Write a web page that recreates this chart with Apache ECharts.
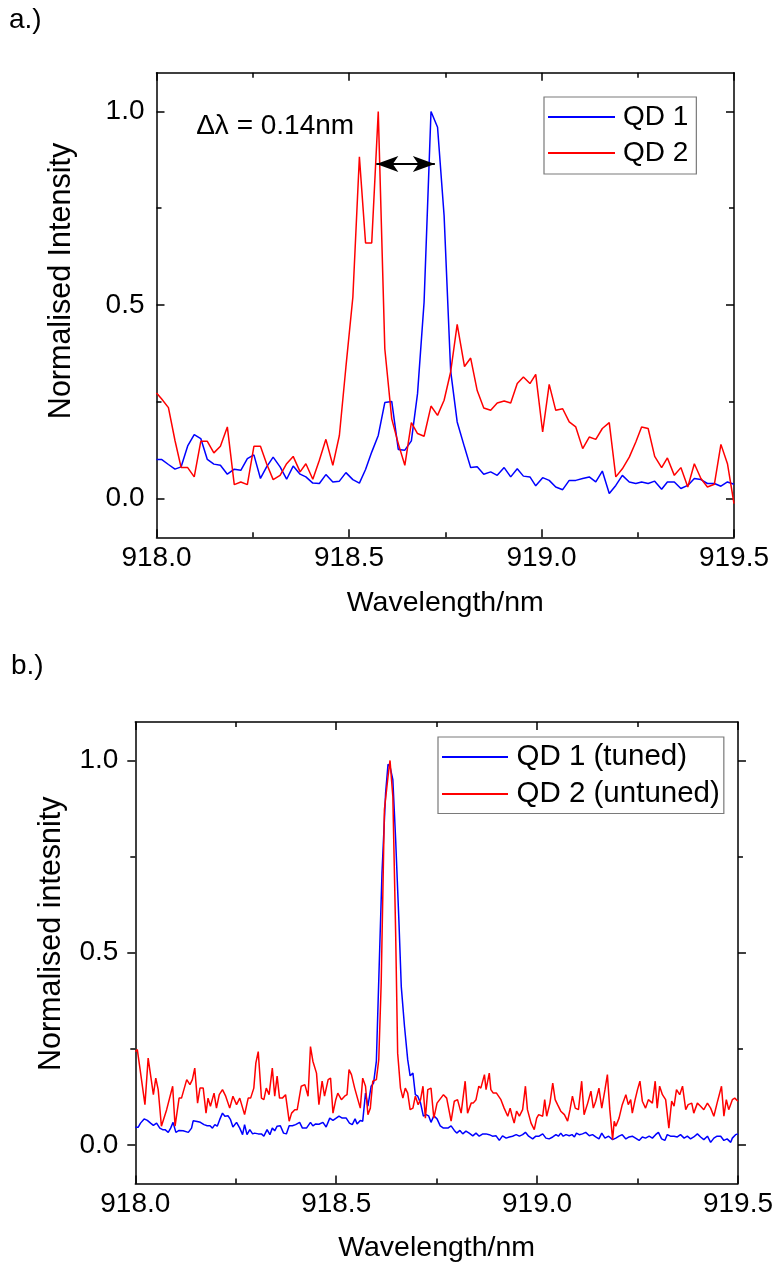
<!DOCTYPE html>
<html>
<head>
<meta charset="utf-8">
<script src="https://cdn.jsdelivr.net/npm/echarts@6/dist/echarts.min.js"></script>
<style>
  html, body { margin: 0; padding: 0; background: #ffffff; }
  #chart { width: 776px; height: 1268px; }
</style>
</head>
<body>
<div id="chart"></div>
<script>
// ---------- Panel a: spectra of the two dots before tuning ----------
const waveA = [918.000, 918.013, 918.031, 918.048, 918.064, 918.081, 918.098, 918.115, 918.132, 918.149,
  918.166, 918.184, 918.202, 918.219, 918.236, 918.253, 918.270, 918.286, 918.303, 918.321,
  918.338, 918.355, 918.373, 918.388, 918.406, 918.423, 918.440, 918.458, 918.475, 918.492,
  918.510, 918.527, 918.543, 918.559, 918.576, 918.593, 918.611, 918.628, 918.645, 918.662,
  918.678, 918.695, 918.713, 918.730, 918.747, 918.764, 918.781, 918.800, 918.816, 918.833,
  918.850, 918.868, 918.885, 918.903, 918.920, 918.937, 918.953, 918.970, 918.985, 919.003,
  919.020, 919.037, 919.055, 919.072, 919.089, 919.107, 919.124, 919.141, 919.158, 919.176,
  919.193, 919.210, 919.228, 919.245, 919.260, 919.277, 919.294, 919.312, 919.327, 919.345,
  919.362, 919.380, 919.397, 919.414, 919.431, 919.449, 919.466, 919.483, 919.500];

const qd1A = [0.101, 0.101, 0.088, 0.076, 0.082, 0.136, 0.165, 0.155, 0.101, 0.089,
  0.086, 0.063, 0.076, 0.073, 0.103, 0.113, 0.052, 0.082, 0.107, 0.082,
  0.050, 0.084, 0.063, 0.056, 0.040, 0.039, 0.062, 0.043, 0.045, 0.067,
  0.049, 0.040, 0.075, 0.120, 0.163, 0.248, 0.251, 0.127, 0.125, 0.149,
  0.271, 0.507, 1.000, 0.959, 0.731, 0.330, 0.198, 0.133, 0.080, 0.082,
  0.063, 0.069, 0.060, 0.080, 0.056, 0.077, 0.058, 0.056, 0.033, 0.054,
  0.047, 0.030, 0.023, 0.047, 0.047, 0.052, 0.056, 0.043, 0.071, 0.013,
  0.034, 0.060, 0.043, 0.039, 0.043, 0.039, 0.045, 0.024, 0.043, 0.043,
  0.026, 0.034, 0.052, 0.049, 0.039, 0.039, 0.032, 0.043, 0.037];

const qd2A = [0.273, 0.258, 0.235, 0.150, 0.080, 0.080, 0.056, 0.148, 0.148, 0.118,
  0.135, 0.185, 0.036, 0.043, 0.036, 0.135, 0.135, 0.090, 0.049, 0.060,
  0.090, 0.109, 0.069, 0.090, 0.050, 0.099, 0.153, 0.086, 0.163, 0.340,
  0.520, 0.883, 0.660, 0.660, 1.000, 0.387, 0.206, 0.142, 0.086, 0.196,
  0.168, 0.161, 0.239, 0.215, 0.254, 0.327, 0.450, 0.341, 0.363, 0.279,
  0.234, 0.228, 0.247, 0.252, 0.247, 0.297, 0.314, 0.297, 0.321, 0.172,
  0.295, 0.228, 0.232, 0.198, 0.185, 0.129, 0.159, 0.153, 0.181, 0.196,
  0.056, 0.077, 0.107, 0.146, 0.185, 0.181, 0.109, 0.080, 0.105, 0.060,
  0.080, 0.030, 0.090, 0.052, 0.030, 0.037, 0.140, 0.090, -0.013];

// double arrow between the two peaks: [tip nm, tip nm, intensity]
const splitArrow = [918.571, 918.723, 0.864];
const splitText = 'Δλ = 0.14nm';
const splitTextAt = [918.103, 0.962];

// ---------- Panel b: after tuning QD 1 onto QD 2 ----------
const waveB1 = [918.000, 918.007, 918.013, 918.022, 918.030, 918.038, 918.045, 918.053, 918.061, 918.068,
  918.074, 918.082, 918.088, 918.094, 918.101, 918.109, 918.119, 918.132, 918.140, 918.144,
  918.154, 918.162, 918.171, 918.179, 918.186, 918.192, 918.198, 918.204, 918.210, 918.217,
  918.223, 918.231, 918.237, 918.243, 918.252, 918.260, 918.267, 918.272, 918.278, 918.285,
  918.292, 918.297, 918.306, 918.314, 918.320, 918.328, 918.335, 918.341, 918.347, 918.353,
  918.361, 918.369, 918.376, 918.383, 918.391, 918.399, 918.409, 918.416, 918.426, 918.436,
  918.442, 918.449, 918.457, 918.467, 918.475, 918.484, 918.492, 918.500, 918.507, 918.515,
  918.525, 918.533, 918.540, 918.547, 918.552, 918.560, 918.566, 918.573, 918.579, 918.587,
  918.593, 918.600, 918.606, 918.614, 918.623, 918.629, 918.634, 918.641, 918.648, 918.656,
  918.662, 918.670, 918.678, 918.684, 918.691, 918.697, 918.703, 918.710, 918.717, 918.724,
  918.730, 918.736, 918.743, 918.751,
  918.759, 918.767, 918.778, 918.786, 918.794, 918.800, 918.808, 918.815, 918.823, 918.831,
  918.840, 918.848, 918.856, 918.865, 918.873, 918.881, 918.889, 918.898, 918.906, 918.914,
  918.923, 918.931, 918.939, 918.948, 918.956, 918.964, 918.971, 918.979, 918.989, 918.997,
  919.005, 919.014, 919.022, 919.030, 919.039, 919.047, 919.053, 919.059, 919.065, 919.072,
  919.080, 919.087, 919.093, 919.098, 919.105, 919.113, 919.121, 919.130, 919.138, 919.146,
  919.154, 919.161, 919.169, 919.178, 919.188, 919.196, 919.204, 919.212, 919.221, 919.229,
  919.237, 919.245, 919.254, 919.262, 919.270, 919.279, 919.287, 919.295, 919.302, 919.310,
  919.318, 919.324, 919.332, 919.341, 919.349, 919.357, 919.366, 919.374, 919.382, 919.390,
  919.399, 919.407, 919.415, 919.424, 919.432, 919.440, 919.448, 919.457, 919.465, 919.473,
  919.482, 919.486, 919.494, 919.500];

const qd1B = [0.046, 0.046, 0.057, 0.068, 0.064, 0.057, 0.051, 0.057, 0.044, 0.040,
  0.040, 0.033, 0.044, 0.059, 0.033, 0.038, 0.037, 0.033, 0.044, 0.063,
  0.061, 0.059, 0.053, 0.050, 0.050, 0.044, 0.053, 0.049, 0.066, 0.083,
  0.075, 0.076, 0.066, 0.047, 0.059, 0.044, 0.027, 0.053, 0.027, 0.040,
  0.029, 0.031, 0.029, 0.029, 0.023, 0.040, 0.027, 0.044, 0.037, 0.049,
  0.050, 0.031, 0.029, 0.050, 0.050, 0.053, 0.059, 0.044, 0.044, 0.059,
  0.050, 0.055, 0.054, 0.059, 0.047, 0.070, 0.064, 0.070, 0.075, 0.070,
  0.070, 0.057, 0.053, 0.068, 0.055, 0.064, 0.062, 0.135, 0.101, 0.153,
  0.161, 0.218, 0.430, 0.707, 0.915, 0.990, 0.984, 0.950, 0.794, 0.586,
  0.412, 0.309, 0.222, 0.180, 0.187, 0.131, 0.127, 0.109, 0.075, 0.079,
  0.076, 0.059, 0.076, 0.068,
  0.050, 0.044, 0.044, 0.050, 0.038, 0.031, 0.038, 0.029, 0.036, 0.031,
  0.024, 0.031, 0.023, 0.029, 0.029, 0.027, 0.023, 0.024, 0.012, 0.024,
  0.018, 0.021, 0.023, 0.027, 0.023, 0.027, 0.033, 0.023, 0.016, 0.023,
  0.023, 0.029, 0.018, 0.016, 0.021, 0.027, 0.023, 0.031, 0.023, 0.027,
  0.024, 0.027, 0.021, 0.031, 0.027, 0.029, 0.033, 0.024, 0.027, 0.021,
  0.016, 0.031, 0.018, 0.023, 0.014, 0.018, 0.023, 0.027, 0.016, 0.021,
  0.023, 0.018, 0.012, 0.021, 0.018, 0.023, 0.018, 0.027, 0.033, 0.016,
  0.012, 0.027, 0.023, 0.023, 0.021, 0.027, 0.018, 0.023, 0.016, 0.021,
  0.029, 0.021, 0.014, 0.023, 0.007, 0.018, 0.023, 0.023, 0.012, 0.016,
  0.007, 0.018, 0.027, 0.029];

const waveB2 = [918.000, 918.005, 918.012, 918.024, 918.032, 918.045, 918.051, 918.057, 918.065, 918.078,
  918.093, 918.099, 918.109, 918.115, 918.128, 918.136, 918.142, 918.148, 918.155, 918.161,
  918.169, 918.176, 918.181, 918.187, 918.196, 918.202, 918.209, 918.217, 918.225, 918.235,
  918.243, 918.252, 918.260, 918.272, 918.281, 918.287, 918.295, 918.300, 918.306, 918.314,
  918.320, 918.326, 918.333, 918.341, 918.347, 918.353, 918.359, 918.366, 918.374, 918.383,
  918.389, 918.397, 918.403, 918.413, 918.422, 918.430, 918.436, 918.442, 918.451, 918.457,
  918.465, 918.471, 918.480, 918.486, 918.492, 918.499, 918.504, 918.513, 918.521, 918.527,
  918.532, 918.538, 918.546, 918.554, 918.560, 918.566, 918.573, 918.579, 918.585, 918.591,
  918.600, 918.606, 918.612, 918.620, 918.629, 918.634, 918.641, 918.648, 918.653, 918.660,
  918.666, 918.672, 918.678, 918.684, 918.691, 918.697, 918.704, 918.710, 918.716, 918.722,
  918.728, 918.736, 918.743, 918.751,
  918.767, 918.775, 918.786, 918.794, 918.802, 918.811, 918.821, 918.827, 918.836, 918.841,
  918.848, 918.855, 918.860, 918.869, 918.873, 918.881, 918.885, 918.891, 918.899, 918.910,
  918.918, 918.927, 918.933, 918.938, 918.943, 918.949, 918.956, 918.964, 918.971, 918.976,
  918.985, 918.993, 918.999, 919.004, 919.008, 919.014, 919.019, 919.024, 919.032, 919.039,
  919.045, 919.051, 919.059, 919.068, 919.076, 919.082, 919.088, 919.095, 919.103, 919.111,
  919.117, 919.126, 919.134, 919.140, 919.146, 919.154, 919.161, 919.169, 919.175, 919.181,
  919.188, 919.192, 919.196, 919.204, 919.212, 919.221, 919.227, 919.233, 919.237, 919.244,
  919.250, 919.256, 919.262, 919.270, 919.277, 919.287, 919.294, 919.299, 919.305, 919.312,
  919.320, 919.328, 919.335, 919.341, 919.347, 919.355, 919.362, 919.370, 919.376, 919.385,
  919.390, 919.399, 919.407, 919.415, 919.424, 919.432, 919.440, 919.448, 919.459, 919.465,
  919.471, 919.477, 919.486, 919.492, 919.500];

const qd2B = [0.243, 0.248, 0.196, 0.105, 0.226, 0.131, 0.174, 0.144, 0.049, 0.092,
  0.153, 0.049, 0.122, 0.122, 0.170, 0.157, 0.170, 0.200, 0.109, 0.148,
  0.148, 0.083, 0.122, 0.101, 0.135, 0.096, 0.131, 0.144, 0.127, 0.096,
  0.127, 0.105, 0.122, 0.079, 0.122, 0.122, 0.148, 0.213, 0.243, 0.122,
  0.118, 0.148, 0.131, 0.200, 0.127, 0.179, 0.122, 0.122, 0.131, 0.062,
  0.083, 0.092, 0.092, 0.153, 0.157, 0.127, 0.256, 0.218, 0.187, 0.105,
  0.166, 0.127, 0.170, 0.174, 0.083, 0.118, 0.135, 0.118, 0.127, 0.131,
  0.196, 0.183, 0.148, 0.118, 0.096, 0.174, 0.153, 0.079, 0.096, 0.166,
  0.170, 0.222, 0.421, 0.872, 0.958, 1.000, 0.906, 0.551, 0.239, 0.148,
  0.122, 0.148, 0.135, 0.092, 0.096, 0.127, 0.105, 0.118, 0.153, 0.070,
  0.144, 0.148, 0.070, 0.109,
  0.131, 0.122, 0.062, 0.114, 0.118, 0.083, 0.166, 0.083, 0.109, 0.109,
  0.118, 0.153, 0.148, 0.183, 0.144, 0.187, 0.144, 0.135, 0.135, 0.118,
  0.096, 0.075, 0.096, 0.075, 0.057, 0.088, 0.075, 0.092, 0.153, 0.092,
  0.057, 0.040, 0.070, 0.079, 0.079, 0.075, 0.118, 0.075, 0.109, 0.161,
  0.118, 0.105, 0.088, 0.079, 0.062, 0.092, 0.127, 0.096, 0.092, 0.166,
  0.079, 0.109, 0.140, 0.096, 0.114, 0.148, 0.096, 0.144, 0.183, 0.092,
  0.014, 0.062, 0.049, 0.070, 0.105, 0.131, 0.105, 0.118, 0.083, 0.118,
  0.144, 0.166, 0.114, 0.096, 0.118, 0.109, 0.166, 0.096, 0.153, 0.131,
  0.118, 0.044, 0.114, 0.101, 0.144, 0.131, 0.153, 0.092, 0.105, 0.109,
  0.083, 0.109, 0.101, 0.092, 0.109, 0.096, 0.075, 0.109, 0.153, 0.075,
  0.118, 0.092, 0.118, 0.122, 0.114];

// ---------- axis ticks / labels ----------
const xTicks = { min: 918.0, max: 919.5, step: 0.5 };
const yMajor = [0, 0.5, 1.0];
const yMinor = [0.25, 0.75];
const yRange = [-0.1, 1.1];

// ---------- styling ----------
const FONT = '"Liberation Sans", Arial, Helvetica, sans-serif';
const BLUE = '#0000ff';
const RED = '#ff0000';
const AXIS_LINE = { color: '#000', width: 1.5 };

const zip = (xs, ys) => xs.map((x, i) => [x, ys[i]]);

function xAxisFor(grid, position, withLabels, nameGap) {
  return {
    type: 'value', gridIndex: grid, position: position,
    min: xTicks.min, max: xTicks.max, interval: xTicks.step,
    axisLine: { show: true, onZero: false, lineStyle: AXIS_LINE },
    axisTick: { show: true, inside: true, length: 8, lineStyle: AXIS_LINE },
    minorTick: { show: true, splitNumber: 2, length: 5, lineStyle: AXIS_LINE },
    splitLine: { show: false }, minorSplitLine: { show: false },
    axisLabel: {
      show: withLabels, margin: 7, fontSize: 28, color: '#000', fontFamily: FONT,
      formatter: v => v.toFixed(1)
    },
    name: withLabels ? 'Wavelength/nm' : '',
    nameLocation: 'middle', nameGap: nameGap,
    nameTextStyle: { fontSize: 28.5, color: '#000', fontFamily: FONT }
  };
}

function yAxisFor(grid, position, major, inside, opts) {
  opts = opts || {};
  return {
    type: 'value', gridIndex: grid, position: position,
    min: yRange[0], max: yRange[1],
    axisLine: { show: major, onZero: false, lineStyle: AXIS_LINE },
    axisTick: {
      show: true, inside: inside, length: major ? 8 : 5,
      customValues: major ? yMajor : yMinor, lineStyle: AXIS_LINE
    },
    splitLine: { show: false },
    axisLabel: {
      show: !!opts.labels, customValues: yMajor, margin: opts.margin || 12,
      fontSize: 28, color: '#000', fontFamily: FONT,
      formatter: v => v.toFixed(1)
    },
    name: opts.name || '',
    nameLocation: 'middle', nameGap: opts.nameGap || 0, nameRotate: 90,
    // left padding lifts the rotated title a little above the axis centre
    nameTextStyle: {
      fontSize: 30.5, color: '#000', fontFamily: FONT,
      padding: [0, 0, 0, opts.lift || 0]
    }
  };
}

function lineSeries(name, x, y, yAxis, color, extra) {
  return Object.assign({
    type: 'line', name: name, xAxisIndex: yAxis < 4 ? 0 : 2, yAxisIndex: yAxis,
    data: zip(x, y), showSymbol: false, symbol: 'none',
    lineStyle: { color: color, width: 1.5 }, itemStyle: { color: color },
    emphasis: { disabled: true }, animation: false
  }, extra || {});
}

const option = {
  backgroundColor: '#ffffff',
  animation: false,
  title: [
    { text: 'a.)', left: 9, top: 6, padding: 0,
      textStyle: { fontSize: 28, fontWeight: 'normal', color: '#000', fontFamily: FONT } },
    { text: 'b.)', left: 11, top: 652, padding: 0,
      textStyle: { fontSize: 28, fontWeight: 'normal', color: '#000', fontFamily: FONT } }
  ],
  grid: [
    { left: 156.5, right: 42, top: 72.7, height: 464.6, containLabel: false },
    { left: 135.3, right: 37, top: 722, height: 461.5, containLabel: false }
  ],
  xAxis: [
    xAxisFor(0, 'bottom', true, 51.5),
    xAxisFor(0, 'top', false, 0),
    xAxisFor(1, 'bottom', true, 50.5),
    xAxisFor(1, 'top', false, 0)
  ],
  yAxis: [
    yAxisFor(0, 'left', true, true, { labels: true, margin: 12, name: 'Normalised Intensity', nameGap: 79, lift: 48 }),
    yAxisFor(0, 'left', false, true),
    yAxisFor(0, 'right', true, true),
    yAxisFor(0, 'right', false, true),
    yAxisFor(1, 'left', true, false, { labels: true, margin: 17, name: 'Normalised intesnity', nameGap: 68, lift: 38 }),
    yAxisFor(1, 'left', false, false),
    yAxisFor(1, 'right', true, false),
    yAxisFor(1, 'right', false, false)
  ],
  legend: [
    {
      data: ['QD 1', 'QD 2'], left: 544, top: 97, orient: 'vertical',
      icon: 'rect', itemWidth: 67, itemHeight: 2, itemGap: 6,
      padding: [5, 8, 6, 4], borderColor: '#7a7a7a', borderWidth: 1.2,
      selectedMode: false,
      textStyle: { fontSize: 28, lineHeight: 30, color: '#000', fontFamily: FONT, padding: [0, 0, 0, 3] }
    },
    {
      data: ['QD 1 (tuned)', 'QD 2 (untuned)'], left: 438, top: 737, orient: 'vertical',
      icon: 'rect', itemWidth: 66, itemHeight: 2, itemGap: 6,
      padding: [4.5, 4, 4, 4], borderColor: '#7a7a7a', borderWidth: 1.2,
      selectedMode: false,
      textStyle: { fontSize: 29.5, lineHeight: 31, color: '#000', fontFamily: FONT, padding: [0, 0, 0, 3.5] }
    }
  ],
  series: [
    lineSeries('QD 1', waveA, qd1A, 0, BLUE),
    lineSeries('QD 2', waveA, qd2A, 0, RED, {
      markLine: {
        silent: true, animation: false,
        symbol: ['arrow', 'arrow'], symbolSize: [12, 22],
        label: { show: false },
        lineStyle: { color: '#000', width: 2, type: 'solid' },
        emphasis: { disabled: true },
        data: [[{ coord: [splitArrow[0], splitArrow[2]] }, { coord: [splitArrow[1], splitArrow[2]] }]]
      },
      markPoint: {
        silent: true, animation: false,
        symbol: 'circle', symbolSize: 0,
        itemStyle: { color: 'rgba(0,0,0,0)' },
        label: {
          show: true, position: 'right', distance: 0, formatter: splitText,
          fontSize: 28, color: '#000', fontFamily: FONT
        },
        data: [{ coord: splitTextAt }]
      }
    }),
    lineSeries('QD 1 (tuned)', waveB1, qd1B, 4, BLUE),
    lineSeries('QD 2 (untuned)', waveB2, qd2B, 4, RED)
  ]
};

const chart = echarts.init(document.getElementById('chart'), null, { renderer: 'canvas' });
chart.setOption(option);
</script>
</body>
</html>
